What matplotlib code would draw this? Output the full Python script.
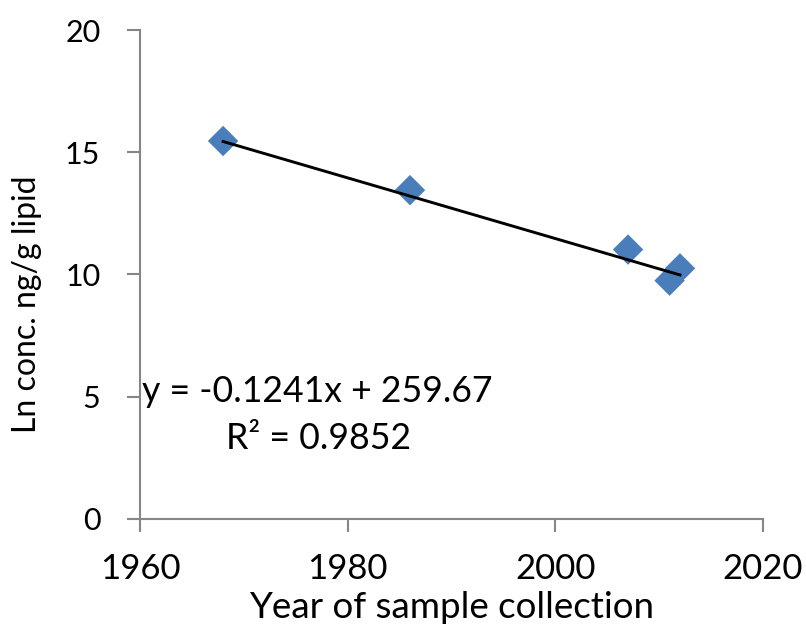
import matplotlib
matplotlib.use("Agg")
import matplotlib.pyplot as plt

# sample years and log concentrations
years = [1968, 1986, 2007, 2011, 2012]
ln_conc = [15.46, 13.45, 11.02, 9.75, 10.25]

# linear trend as reported
slope = -0.1241
intercept = 259.67
eq_text = "y = -0.1241x + 259.67"
r2_text = "R² = 0.9852"

x_ticks = [1960, 1980, 2000, 2020]
y_ticks = [0, 5, 10, 15, 20]

plt.rcParams["font.family"] = ["Lato", "DejaVu Sans"]

fig = plt.figure(figsize=(8.06, 6.28), dpi=100)
ax = fig.add_axes([0.1737, 0.1736, 0.7730, 0.7786])

ax.scatter(years, ln_conc, marker="D", s=15.5 ** 2, color="#4a7ebb",
           edgecolors="none", zorder=2)

fit_x = [min(years), max(years)]
fit_y = [slope * v + intercept for v in fit_x]
ax.plot(fit_x, fit_y, color="black", lw=2.1, zorder=3)

ax.set_xlim(1960, 2020)
ax.set_ylim(0, 20)
ax.set_xticks(x_ticks)
ax.set_yticks(y_ticks)

for side in ["top", "right"]:
    ax.spines[side].set_visible(False)
for side in ["left", "bottom"]:
    ax.spines[side].set_color("#868686")
    ax.spines[side].set_linewidth(1.5)

ax.tick_params(axis="both", direction="out", length=9.5, width=1.5,
               color="#868686")
ax.tick_params(axis="x", labelsize=25, pad=15)
ax.tick_params(axis="y", labelsize=22, pad=19)

ax.set_xlabel("Year of sample collection", fontsize=26.5, labelpad=4)
ax.set_ylabel("Ln conc. ng/g lipid", fontsize=23)
ax.yaxis.set_label_coords(-0.157, 0.44)

ax.text(1977.05, 5.2, eq_text, fontsize=25.7, ha="center", va="center")
ax.text(1977.2, 3.3, r2_text, fontsize=25.7, ha="center", va="center")

fig.savefig("out.png", dpi=100)
